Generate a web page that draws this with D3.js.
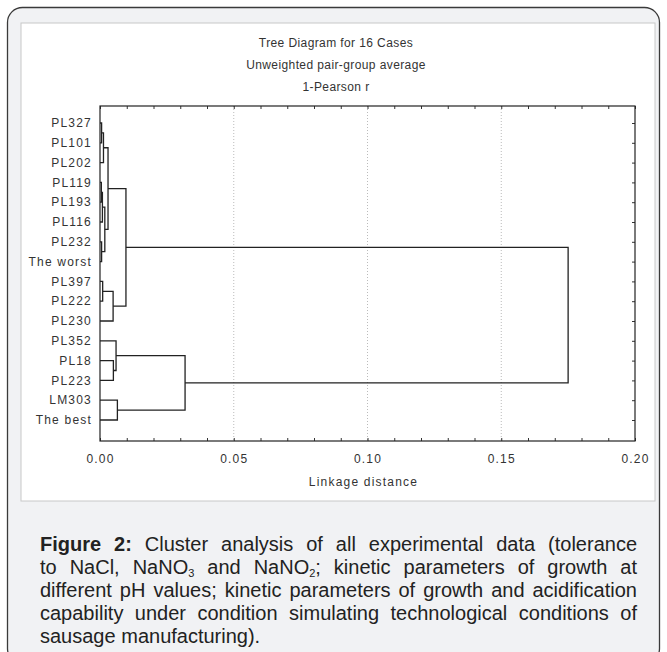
<!DOCTYPE html>
<html>
<head>
<meta charset="utf-8">
<script src="https://cdn.jsdelivr.net/npm/d3@7/dist/d3.min.js"></script>
<style>
html,body{margin:0;padding:0;background:#fff;}
svg{display:block;}
</style>
</head>
<body>
<svg id="chart" width="667" height="652"></svg>
<script>
// ---------- DATA ----------
const leafLabels = ["PL327","PL101","PL202","PL119","PL193","PL116","PL232","The worst",
                    "PL397","PL222","PL230","PL352","PL18","PL223","LM303","The best"];
// agglomeration steps: node 16+k joins mergeA[k] and mergeB[k] at mergeHeight[k]
const mergeA = [0, 16, 3, 18, 6, 19, 17, 8, 23, 22, 12, 11, 14, 27, 25];
const mergeB = [1, 2, 4, 5, 7, 20, 21, 9, 10, 24, 13, 26, 15, 28, 29];
const mergeHeight = [0.0006, 0.0013, 0.0005, 0.0009, 0.0006, 0.0018, 0.0030, 0.0010,
                     0.0049, 0.0097, 0.0050, 0.0060, 0.0065, 0.0318, 0.1750];
const xTicks = [0, 0.05, 0.10, 0.15, 0.20];
const xTickLabels = ["0.00", "0.05", "0.10", "0.15", "0.20"];
const xMinorTicks = [0,0.01,0.02,0.03,0.04,0.05,0.06,0.07,0.08,0.09,0.10,0.11,0.12,0.13,0.14,0.15,0.16,0.17,0.18,0.19,0.20];
const titleLines = ["Tree Diagram for 16 Cases", "Unweighted pair-group average", "1-Pearson r"];
const xAxisTitle = "Linkage distance";
const captionLines = [
  "**Figure 2:** Cluster analysis of all experimental data (tolerance",
  "to NaCl, NaNO_3 and NaNO_2; kinetic parameters of growth at",
  "different pH values; kinetic parameters of growth and acidification",
  "capability under condition simulating technological conditions of",
  "sausage manufacturing)."
];

// ---------- LAYOUT ----------
const svg = d3.select("#chart");
const plot = {left:100, right:635, top:106, bottom:441};

// outer rounded box
svg.append("rect").attr("x",7.5).attr("y",7.5).attr("width",652).attr("height",656)
  .attr("rx",15).attr("fill","#f1f2f4").attr("stroke","#3a3a3a").attr("stroke-width",1.3);
// inner white panel
svg.append("rect").attr("x",21).attr("y",23).attr("width",634).attr("height",478)
  .attr("fill","#fff").attr("stroke","#c8c8c8").attr("stroke-width",1);

const x = d3.scaleLinear().domain([0, 0.20]).range([plot.left, plot.right]);
const y = d3.scalePoint().domain(leafLabels).range([123, 420]);

// titles
svg.selectAll("text.title").data(titleLines).join("text")
  .attr("class","title")
  .attr("x",336).attr("y",(d,i)=>47 + i*22)
  .attr("text-anchor","middle")
  .style("font-family","'Liberation Sans', Arial, sans-serif")
  .style("font-size","12px").style("letter-spacing","0.4px")
  .attr("fill","#333").text(d=>d);

// grid lines (dotted) at major ticks
svg.selectAll("line.grid").data(xTicks.slice(1, -1)).join("line")
  .attr("class","grid")
  .attr("x1",d=>x(d)).attr("x2",d=>x(d))
  .attr("y1",plot.top).attr("y2",plot.bottom)
  .attr("stroke","#aaa").attr("stroke-width",0.8).attr("stroke-dasharray","1,2");

// bottom axis
const fmt = d => { const i = xTicks.findIndex(t => Math.abs(t-d) < 1e-9); return i >= 0 ? xTickLabels[i] : ""; };
const gB = svg.append("g").attr("transform",`translate(0,${plot.bottom})`)
  .call(d3.axisBottom(x).tickValues(xMinorTicks).tickSize(-3).tickSizeOuter(0).tickPadding(13).tickFormat(fmt));
gB.select(".domain").remove();
gB.selectAll(".tick line").attr("stroke","#333");
gB.selectAll(".tick text")
  .style("font-family","'Liberation Sans', Arial, sans-serif")
  .style("font-size","12px").style("letter-spacing","1.2px").attr("fill","#333");

// top axis
const gT = svg.append("g").attr("transform",`translate(0,${plot.top})`)
  .call(d3.axisTop(x).tickValues(xMinorTicks).tickSize(-3).tickSizeOuter(0).tickFormat(""));
gT.select(".domain").remove();
gT.selectAll(".tick line").attr("stroke","#333");

// right axis ticks at leaves
const gR = svg.append("g").attr("transform",`translate(${plot.right},0)`)
  .call(d3.axisRight(y).tickSize(-3).tickSizeOuter(0).tickFormat(""));
gR.select(".domain").remove();
gR.selectAll(".tick line").attr("stroke","#333");

// frame
svg.append("rect").attr("x",plot.left).attr("y",plot.top)
  .attr("width",plot.right-plot.left).attr("height",plot.bottom-plot.top)
  .attr("fill","none").attr("stroke","#222").attr("stroke-width",1.2);

// leaf labels
svg.selectAll("text.leaf").data(leafLabels).join("text")
  .attr("class","leaf")
  .attr("x",plot.left-8).attr("y",d=>y(d)).attr("dy","0.35em")
  .attr("text-anchor","end")
  .style("font-family","'Liberation Sans', Arial, sans-serif")
  .style("font-size","12px").style("letter-spacing","1.2px")
  .attr("fill","#333").text(d=>d);

// x-axis title
svg.append("text").attr("x",(plot.left+plot.right)/2 - 4).attr("y",486)
  .attr("text-anchor","middle")
  .style("font-family","'Liberation Sans', Arial, sans-serif")
  .style("font-size","12px").style("letter-spacing","1.2px")
  .attr("fill","#333").text(xAxisTitle);

// ---------- DENDROGRAM ----------
const nodeX = [], nodeY = [];
leafLabels.forEach((l,i)=>{ nodeX[i] = x(0); nodeY[i] = y(l); });
const links = mergeHeight.map((h,k)=>{
  const a = mergeA[k], b = mergeB[k], id = leafLabels.length + k;
  nodeX[id] = x(h);
  nodeY[id] = (nodeY[a] + nodeY[b]) / 2;
  return {a, b, id};
});
svg.append("g").selectAll("path").data(links).join("path")
  .attr("d", d => `M${nodeX[d.a]},${nodeY[d.a]}H${nodeX[d.id]}V${nodeY[d.b]}H${nodeX[d.b]}`)
  .attr("fill","none").attr("stroke","#222").attr("stroke-width",1.3);

// ---------- CAPTION (justified) ----------
const capLeft = 40, capRight = 637, capTop = 551, capStep = 23;
function parseWord(w){
  const parts = [];
  const m = w.split("_");
  if (m.length === 1) parts.push({t:w, sub:false});
  else {
    parts.push({t:m[0], sub:false});
    parts.push({t:m[1].charAt(0), sub:true});
    if (m[1].length > 1) parts.push({t:m[1].slice(1), sub:false});
  }
  return parts;
}
captionLines.forEach((line, li) => {
  const words = line.split(" ");
  let boldOn = false;
  const tokens = words.map(w => {
    let b = boldOn;
    if (w.startsWith("**")) { b = true; boldOn = true; }
    if (w.endsWith("**")) { boldOn = false; }
    const parts = parseWord(w.replace(/\*\*/g,""));
    parts.forEach(p => p.bold = b);
    return parts;
  });
  const yy = capTop + li*capStep;
  const els = tokens.map(parts => {
    const t = svg.append("text").attr("y", yy)
      .style("font-family","'Liberation Sans', Arial, sans-serif")
      .style("font-size","20px").attr("fill","#222");
    let shifted = false;
    parts.forEach(p => {
      const ts = t.append("tspan").text(p.t).style("font-weight", p.bold ? "bold" : "normal");
      if (p.sub) { ts.style("font-size","11px").attr("dy", 3); shifted = true; }
      else if (shifted) { ts.attr("dy", -3); shifted = false; }
    });
    return t;
  });
  const widths = els.map(e => e.node().getComputedTextLength());
  const total = d3.sum(widths);
  const last = li === captionLines.length - 1;
  const gap = last ? 5.6 : (capRight - capLeft - total) / (els.length - 1);
  let cx = capLeft;
  els.forEach((e,i) => { e.attr("x", cx); cx += widths[i] + gap; });
});
</script>
</body>
</html>
